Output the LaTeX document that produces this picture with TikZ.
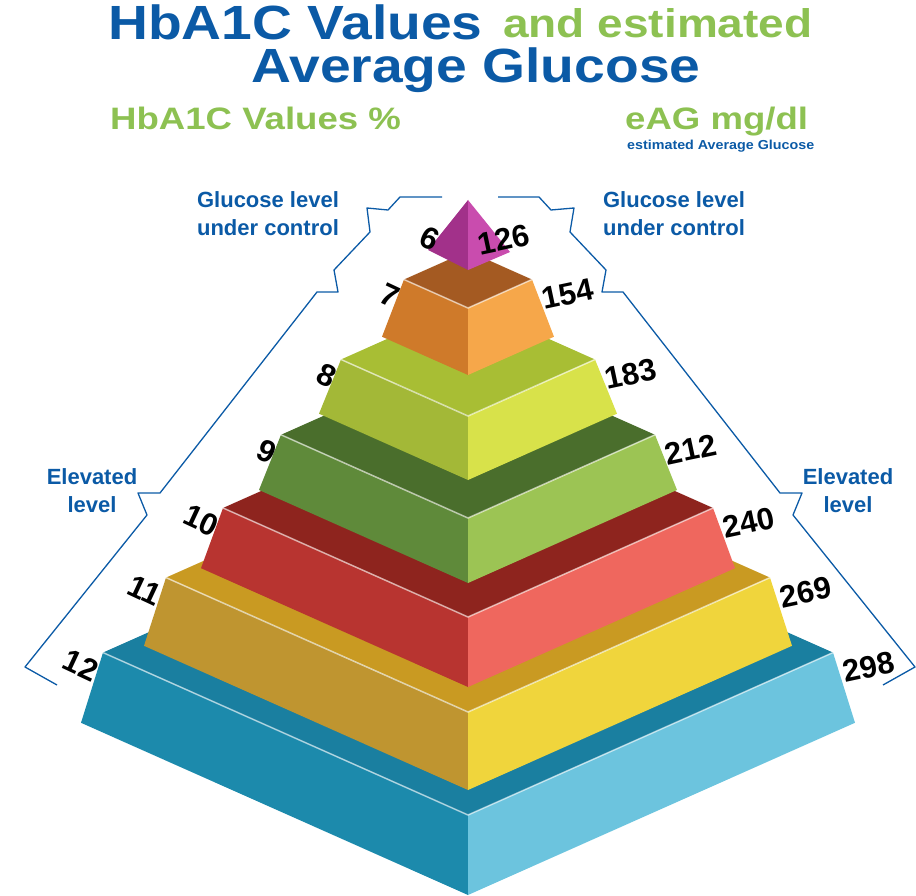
\documentclass[tikz,border=0pt]{standalone}
\usepackage{fontspec}
\setmainfont{Liberation Sans}
\definecolor{titleblue}{HTML}{0B5AA6}
\definecolor{titlegreen}{HTML}{8DC152}
\tikzset{
  title/.style={font=\bfseries\fontsize{48}{48}\selectfont, inner sep=0pt, xscale=1.15},
  sub/.style={font=\bfseries\fontsize{31}{32}\selectfont, text=titlegreen, inner sep=0pt, xscale=1.18},
  side/.style={font=\bfseries\fontsize{22}{28}\selectfont, text=titleblue, align=center, inner sep=0pt},
  bracket/.style={draw=titleblue, line width=1.3pt, line join=round},
  lnum/.style={font=\bfseries\fontsize{31}{31}\selectfont, inner sep=0pt},
  rnum/.style={font=\bfseries\fontsize{31}{31}\selectfont, inner sep=0pt, rotate=12},
  rim/.style={draw=white, opacity=0.6, line width=1.5pt}
}
% one tier: half width, face top front y, face height, ledge, left, right colours
\newcommand{\tier}[7]{%
  \definecolor{tledge}{HTML}{#4}\definecolor{tleft}{HTML}{#5}\definecolor{tright}{HTML}{#6}%
  \pgfmathsetmacro{\tw}{#1}\pgfmathsetmacro{\ty}{#2}\pgfmathsetmacro{\th}{#3}
  \pgfmathsetmacro{\tb}{\ty-0.89*\tw}\pgfmathsetmacro{\ts}{\ty-0.445*\tw}
  \pgfmathsetmacro{\tl}{\ty+\th-0.445*(\tw+22)}
  \fill[tledge] (468,\tb) -- (468-\tw,\ts) -- (468,\ty) -- (468+\tw,\ts) -- cycle;
  \fill[tleft] (468-\tw,\ts) -- (468,\ty) -- (468,\ty+\th) -- (468-\tw-22,\tl) -- cycle;
  \fill[tright] (468+\tw,\ts) -- (468,\ty) -- (468,\ty+\th) -- (468+\tw+22,\tl) -- cycle;
  \draw[rim] (468-\tw,\ts) -- (468,\ty) -- (468+\tw,\ts);
  \coordinate (#7-l) at (468-\tw-6,\ts+20);
  \coordinate (#7-r) at (468+\tw+10,\ts+20);
}
\begin{document}
\begin{tikzpicture}[x=1pt,y=-1pt]
  \useasboundingbox (0,0) rectangle (916,896);

  % titles
  \node[title, text=titleblue, anchor=base west] (t1) at (108,40) {HbA1C Values};
  \node[title, text=titlegreen, anchor=base west, font=\bfseries\fontsize{40}{40}\selectfont] (t2) at (503,38) {and estimated};
  \node[title, text=titleblue, anchor=base] (t3) at (476,83) {Average Glucose};
  \node[sub, anchor=base west] (hv) at (110,130) {HbA1C Values \%};
  \node[sub, anchor=base west] (eag) at (625,130) {eAG mg/dl};
  \node[font=\bfseries\fontsize{13}{14}\selectfont, text=titleblue, anchor=base west, inner sep=0pt, xscale=1.1] (est) at (627,150) {estimated Average Glucose};

  % pyramid, bottom to top
  \tier{365}{815}{80}{1A7FA0}{1C8AAC}{6CC4DE}{b12}
  \tier{302}{712}{78}{C99A22}{BF9530}{F0D53C}{b11}
  \tier{245}{617}{70}{8E241E}{B83430}{EF675E}{b10}
  \tier{187}{518}{65}{4A6E2C}{5F8A3A}{9CC454}{b9}
  \tier{127}{416}{64}{A8BE34}{A3B837}{D8E24A}{b8}
  \tier{64}{308}{67}{A45A22}{CF7A2A}{F6A74A}{b7}
  \definecolor{pleft}{HTML}{A2318A}\definecolor{pright}{HTML}{C94CAE}
  \fill[pleft] (468,200) -- (428,250) -- (468,270) -- cycle;
  \fill[pright] (468,200) -- (510,252) -- (468,270) -- cycle;
  \coordinate (b6-l) at (438,242);
  \coordinate (b6-r) at (478,245);

  % values
  \foreach \n/\v in {b6/6,b7/7,b8/8,b9/9,b10/10,b11/11,b12/12}
    \node[lnum, anchor=east, rotate=-25] at (\n-l) {\v};
  \foreach \n/\v in {b6/126,b7/154,b8/183,b9/212,b10/240,b11/269,b12/298}
    \node[rnum, anchor=west] at (\n-r) {\v};

  % brackets
  \draw[bracket] (442,197) -- (400,197) -- (388,210) -- (367,208) -- (370,232)
    -- (334,270) -- (338,292) -- (317,292) -- (160,493) -- (138,493) -- (147,515)
    -- (25,667) -- (57,685);
  \draw[bracket] (498,197) -- (539,197) -- (551,210) -- (574,208) -- (570,232)
    -- (606,270) -- (602,292) -- (623,292) -- (780,493) -- (802,493) -- (793,515)
    -- (915,667) -- (883,685);

  \node[side] (gl) at (268,214) {Glucose level\\under control};
  \node[side] (gr) at (674,214) {Glucose level\\under control};
  \node[side] (el) at (92,491) {Elevated\\level};
  \node[side] (er) at (848,491) {Elevated\\level};
\end{tikzpicture}
\end{document}
